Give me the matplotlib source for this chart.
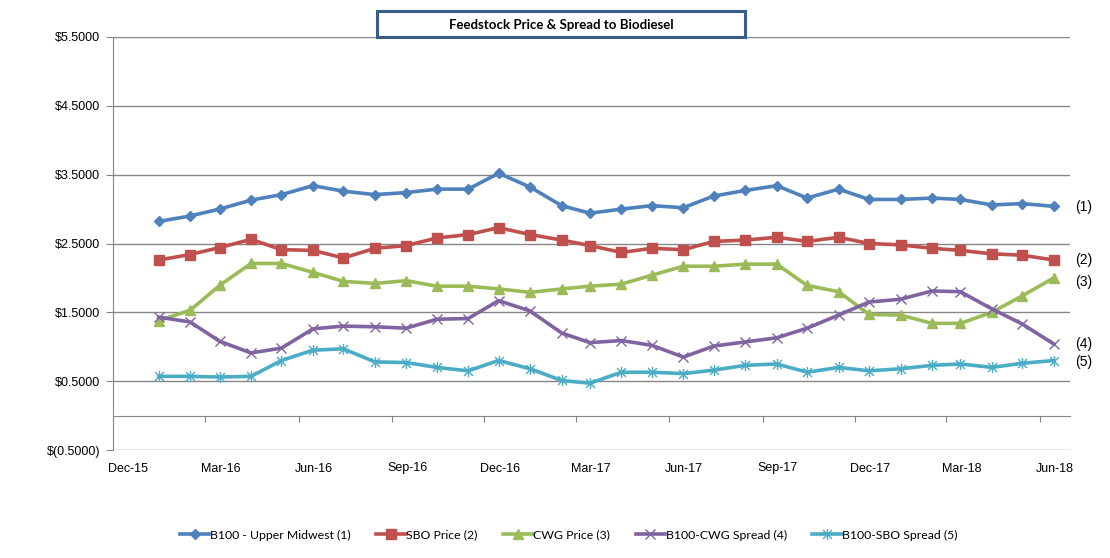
import matplotlib
matplotlib.use("Agg")
import matplotlib.pyplot as plt
import matplotlib.dates as mdates
from matplotlib.path import Path
from matplotlib.patches import Rectangle
import pandas as pd
from datetime import datetime, timedelta

# ---------------- data ----------------
months = pd.date_range("2016-01-01", periods=30, freq="MS") + pd.Timedelta(days=14)
b100 = [2.82, 2.90, 3.00, 3.13, 3.21, 3.34, 3.26, 3.21, 3.24, 3.29,
        3.29, 3.52, 3.32, 3.05, 2.94, 3.00, 3.05, 3.02, 3.19, 3.27,
        3.34, 3.16, 3.29, 3.14, 3.14, 3.16, 3.14, 3.06, 3.08, 3.04]
sbo = [2.26, 2.34, 2.44, 2.56, 2.41, 2.40, 2.29, 2.43, 2.47, 2.58,
       2.63, 2.73, 2.63, 2.55, 2.47, 2.37, 2.43, 2.41, 2.53, 2.55,
       2.59, 2.53, 2.59, 2.50, 2.48, 2.43, 2.40, 2.35, 2.33, 2.26]
cwg = [1.38, 1.53, 1.89, 2.21, 2.21, 2.08, 1.95, 1.92, 1.96, 1.88,
       1.88, 1.84, 1.79, 1.84, 1.88, 1.91, 2.04, 2.17, 2.17, 2.20,
       2.20, 1.89, 1.80, 1.47, 1.46, 1.34, 1.34, 1.50, 1.74, 2.00]
spread_cwg = [1.43, 1.36, 1.08, 0.91, 0.98, 1.26, 1.30, 1.29, 1.27, 1.40,
              1.41, 1.67, 1.52, 1.20, 1.06, 1.09, 1.02, 0.85, 1.01, 1.07,
              1.13, 1.27, 1.46, 1.65, 1.69, 1.81, 1.80, 1.55, 1.33, 1.04]
spread_sbo = [0.57, 0.57, 0.56, 0.57, 0.80, 0.95, 0.97, 0.78, 0.77, 0.70,
              0.65, 0.80, 0.68, 0.51, 0.47, 0.63, 0.63, 0.61, 0.66, 0.73,
              0.75, 0.63, 0.70, 0.65, 0.68, 0.73, 0.75, 0.70, 0.76, 0.80]
series_names = ["B100 - Upper Midwest (1)", "SBO Price (2)", "CWG Price (3)",
                "B100-CWG Spread (4)", "B100-SBO Spread (5)"]
end_labels = ["(1)", "(2)", "(3)", "(4)", "(5)"]
end_label_y = [3.03, 2.26, 1.94, 1.04, 0.78]
yticks = [-0.5, 0.5, 1.5, 2.5, 3.5, 4.5, 5.5]
title = "Feedstock Price & Spread to Biodiesel"

# ---------------- style ----------------
colors = ["#4F81BD", "#C0504D", "#9BBB59", "#8064A2", "#4BACC6"]
star = Path([(0, -1), (0, 1), (-0.8, -0.8), (0.8, 0.8), (-0.8, 0.8), (0.8, -0.8)],
            [Path.MOVETO, Path.LINETO, Path.MOVETO, Path.LINETO, Path.MOVETO, Path.LINETO])
markers = ["D", "s", "^", "x", star]
msizes = [5, 7, 7, 7, 8]
grid_c = "#868686"

plt.rcParams["font.family"] = ["Liberation Sans", "DejaVu Sans"]

W, H = 1110, 558
fig = plt.figure(figsize=(W / 100, H / 100), dpi=100)
ax = fig.add_axes([113 / W, 1 - 450 / H, (1070 - 113) / W, (450 - 37) / H])

data = [b100, sbo, cwg, spread_cwg, spread_sbo]
x = months.to_pydatetime()
handles = []
for vals, c, m, ms, name in zip(data, colors, markers, msizes, series_names):
    if m == "x" or isinstance(m, Path):
        h, = ax.plot(x, vals, color=c, lw=2.6, marker=m, ms=ms, mew=1.0,
                     mec=c, label=name, zorder=3)
    else:
        h, = ax.plot(x, vals, color=c, lw=2.6, marker=m, ms=ms, mfc=c, mec=c,
                     label=name, zorder=3)
    handles.append(h)

ax.set_ylim(-0.5, 5.5)
ax.set_xlim(datetime(2015, 12, 1), datetime(2018, 7, 1))
ax.set_yticks(yticks)
ax.set_yticklabels([f"${v:.4f}" if v >= 0 else f"$({abs(v):.4f})" for v in yticks],
                   fontsize=9)
ax.yaxis.grid(True, color=grid_c, lw=1.0)
ax.set_axisbelow(True)
ax.tick_params(axis="y", direction="out", length=5, color=grid_c, pad=4)

for s in ["top", "right"]:
    ax.spines[s].set_visible(False)
ax.spines["left"].set_color(grid_c)
ax.spines["bottom"].set_color(grid_c)
ax.spines["bottom"].set_position(("data", 0))

qticks = [pd.Timestamp(datetime(2015, 12, 1) + pd.DateOffset(months=3 * i)).to_pydatetime()
          for i in range(11)]
ax.set_xticks(qticks)
ax.tick_params(axis="x", direction="out", length=4, color=grid_c, labelbottom=False)

sec = ax.secondary_xaxis("bottom")
sec.set_xticks([t + timedelta(days=15) for t in qticks])
sec.xaxis.set_major_formatter(mdates.DateFormatter("%b-%y"))
sec.tick_params(axis="x", length=0, labelsize=9, pad=9)
sec.spines["bottom"].set_visible(False)

# end labels
for yv, lab in zip(end_label_y, end_labels):
    ax.annotate(lab, xy=(1.0, yv), xycoords=("axes fraction", "data"),
                xytext=(3.5, 0), textcoords="offset points", va="center",
                ha="left", fontsize=10, annotation_clip=False)

# title box
fig.patches.append(Rectangle((377 / W, 1 - 37 / H), (745 - 377) / W, 26 / H,
                             transform=fig.transFigure, fc="white", ec="#385D8A",
                             lw=2.2, zorder=5))
fig.text(561 / W, 1 - 25 / H, title, ha="center", va="center",
         fontsize=9.5, fontweight="bold", family=["Lato", "DejaVu Sans"], zorder=6)

# legend
leg = fig.legend(handles=handles, loc="center", bbox_to_anchor=(569 / W, 1 - 535 / H),
                 ncol=5, frameon=False, handlelength=2.4,
                 handletextpad=0.05, columnspacing=2.1,
                 prop={"family": ["Lato", "DejaVu Sans"], "size": 8.8})

fig.savefig("out.png", dpi=100)
